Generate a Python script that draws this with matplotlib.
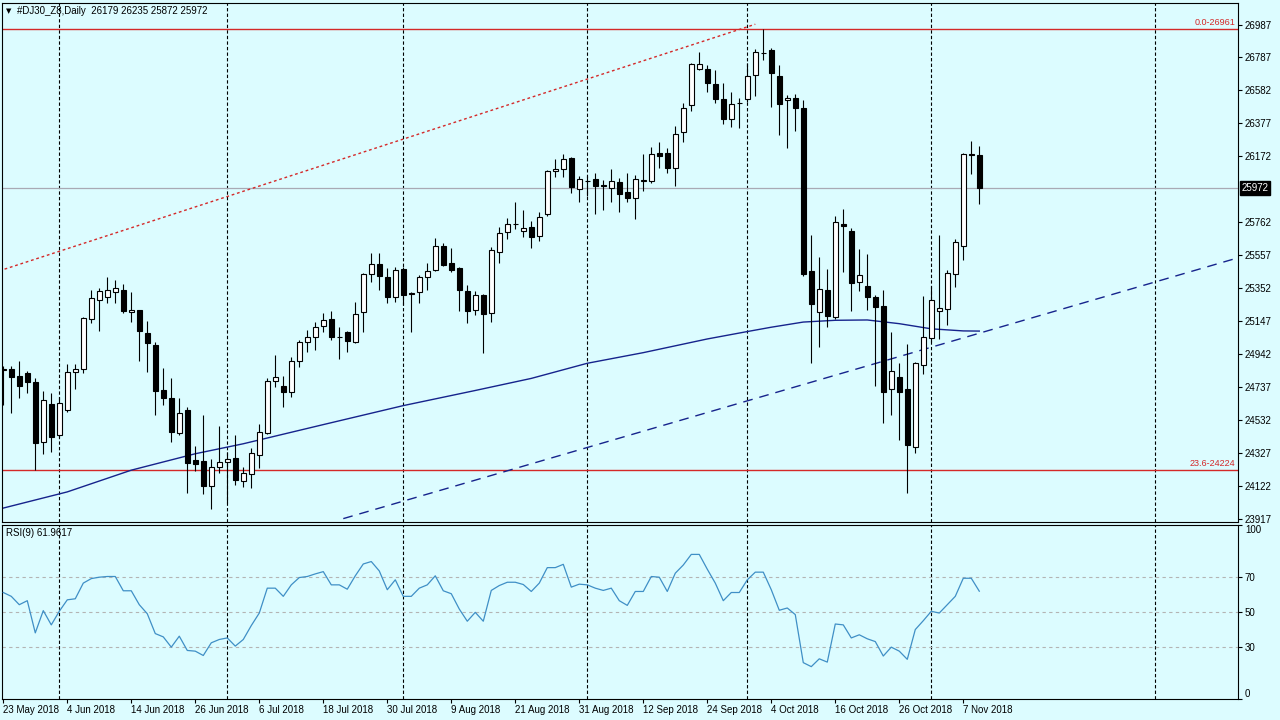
import matplotlib
matplotlib.use('Agg')
import matplotlib.pyplot as plt
import matplotlib.transforms as mtransforms
import numpy as np

# daily bars, 23 May 2018 .. 9 Nov 2018 (one per weekday)
opens = [24843, 24849, 24805, 24824, 24768, 24395, 24631, 24439, 24594, 24830,
         24849, 25159, 25278, 25296, 25327, 25340, 25203, 25215, 25073, 24998,
         24718, 24669, 24451, 24594, 24284, 24277, 24122, 24240, 24271, 24296,
         24153, 24197, 24315, 24451, 24774, 24743, 24706, 24899, 25017, 25048,
         25116, 25159, 25048, 25079, 25017, 25203, 25439, 25501, 25420, 25296,
         25470, 25321, 25327, 25420, 25464, 25613, 25507, 25476, 25333, 25215,
         25309, 25197, 25576, 25700, 25750, 25706, 25731, 25675, 25812, 26079,
         26091, 26160, 25967, 26017, 26029, 25992, 25973, 26011, 25948, 25911,
         26017, 26017, 26191, 26191, 26098, 26321, 26489, 26713, 26713, 26619,
         26526, 26402, 26501, 26526, 26675, 26812, 26831, 26669, 26520, 26532,
         26470, 25458, 25203, 25340, 25172, 25750, 25706, 25389, 25364, 25296,
         25240, 24725, 24799, 24725, 24364, 24874, 25041, 25209, 25222, 25439,
         25613, 26184, 26179]
highs = [24867, 24867, 24899, 24836, 24793, 24712, 24700, 24675, 24880, 24880,
         25172, 25340, 25352, 25420, 25402, 25377, 25327, 25218, 25147, 25017,
         24855, 24793, 24669, 24613, 24371, 24563, 24290, 24495, 24333, 24439,
         24240, 24358, 24507, 24793, 24936, 24805, 24923, 25029, 25091, 25141,
         25197, 25209, 25110, 25085, 25265, 25445, 25569, 25569, 25476, 25483,
         25483, 25327, 25433, 25507, 25663, 25632, 25601, 25483, 25371, 25333,
         25315, 25607, 25731, 25787, 25886, 25837, 25768, 25824, 26085, 26153,
         26184, 26166, 26048, 26048, 26066, 26023, 26091, 26035, 26066, 26054,
         26184, 26228, 26259, 26222, 26358, 26501, 26750, 26818, 26737, 26706,
         26626, 26570, 26532, 26750, 26837, 26961, 26840, 26737, 26551, 26557,
         26520, 25681, 25545, 25470, 25799, 25843, 25725, 25594, 25563, 25309,
         25340, 25079, 24886, 25004, 24892, 25302, 25364, 25681, 25464, 25656,
         26191, 26265, 26235]
lows = [24625, 24575, 24669, 24700, 24221, 24321, 24333, 24426, 24582, 24725,
        24824, 25135, 25085, 25259, 25259, 25197, 25141, 24899, 24830, 24563,
        24625, 24395, 24439, 24079, 24215, 24072, 23979, 24203, 24016, 24128,
        24116, 24110, 24234, 24445, 24737, 24613, 24675, 24861, 24954, 24967,
        25079, 25029, 24911, 24954, 25010, 25079, 25389, 25340, 25259, 25265,
        25246, 25079, 25259, 25340, 25458, 25489, 25451, 25209, 25135, 25184,
        24948, 25141, 25507, 25656, 25719, 25669, 25601, 25644, 25799, 26042,
        26042, 25942, 25886, 25924, 25812, 25837, 25886, 25824, 25886, 25781,
        25955, 26004, 26098, 26066, 25986, 26259, 26452, 26706, 26570, 26501,
        26371, 26352, 26346, 26507, 26545, 26768, 26476, 26302, 26222, 26327,
        25427, 24886, 24986, 25110, 25159, 25451, 25209, 25333, 25215, 24743,
        24513, 24563, 24408, 24079, 24327, 24818, 25017, 25035, 25122, 25358,
        25526, 26060, 25872]
closes = [24849, 24799, 24743, 24768, 24389, 24656, 24426, 24638, 24830, 24849,
          25166, 25290, 25333, 25340, 25352, 25209, 25215, 25085, 25010, 24712,
          24669, 24458, 24575, 24265, 24259, 24122, 24240, 24271, 24290, 24159,
          24203, 24327, 24458, 24774, 24799, 24706, 24899, 25017, 25048, 25110,
          25153, 25048, 25046, 25023, 25190, 25439, 25501, 25427, 25296, 25464,
          25309, 25315, 25420, 25458, 25613, 25495, 25464, 25340, 25209, 25309,
          25190, 25588, 25694, 25750, 25752, 25725, 25669, 25793, 26079, 26091,
          26153, 25979, 26029, 26017, 25986, 25986, 26017, 25936, 25911, 26029,
          26023, 26184, 26172, 26098, 26309, 26470, 26744, 26744, 26626, 26526,
          26402, 26495, 26503, 26669, 26818, 26814, 26688, 26495, 26532, 26470,
          25439, 25253, 25346, 25178, 25762, 25737, 25383, 25433, 25296, 25234,
          24706, 24836, 24706, 24377, 24886, 25048, 25278, 25228, 25445, 25638,
          26184, 26180, 25972]

rsi = [61.2, 59.0, 54.2, 56.5, 38.0, 50.8, 42.6, 50.4, 57.0, 57.6,
       66.6, 69.2, 70.0, 70.4, 70.4, 62.2, 62.2, 54.2, 49.0, 37.6,
       35.7, 29.8, 36.1, 27.9, 27.5, 25.0, 32.3, 34.2, 35.1, 30.4,
       34.2, 42.2, 49.4, 63.7, 63.7, 59.0, 65.6, 69.8, 70.4, 71.9,
       73.2, 65.6, 65.6, 63.1, 70.8, 77.6, 79.0, 73.6, 62.8, 68.5,
       59.0, 59.0, 63.7, 65.6, 70.8, 62.2, 60.5, 51.7, 44.7, 49.8,
       44.7, 62.4, 65.2, 67.1, 67.1, 65.8, 61.8, 66.6, 75.5, 75.5,
       77.4, 64.3, 66.0, 65.6, 63.7, 62.4, 63.7, 56.5, 53.8, 61.8,
       61.8, 70.4, 70.0, 61.8, 72.3, 77.0, 83.1, 83.1, 74.6, 66.6,
       56.5, 61.2, 61.2, 68.5, 72.9, 72.9, 62.8, 51.0, 52.3, 48.5,
       20.9, 18.6, 23.1, 21.2, 43.1, 42.6, 35.1, 36.9, 34.6, 33.0,
       24.7, 29.8, 27.5, 22.8, 39.9, 45.0, 50.4, 49.4, 54.2, 59.0,
       69.4, 69.4, 61.9617]

# moving average, sampled along the blue line
ma_bars = [-0.2, 8, 16, 24, 30, 40, 50, 59, 66, 73, 80, 88, 93, 96, 100,
           104, 108, 112, 116, 120, 122]
ma_vals = [23982, 24085, 24220, 24322, 24384, 24503, 24621, 24715, 24790, 24884,
           24950, 25035, 25081, 25108, 25140, 25151, 25153, 25130, 25098, 25085, 25084]

date_labels = ['23 May 2018', '4 Jun 2018', '14 Jun 2018', '26 Jun 2018', '6 Jul 2018',
               '18 Jul 2018', '30 Jul 2018', '9 Aug 2018', '21 Aug 2018', '31 Aug 2018',
               '12 Sep 2018', '24 Sep 2018', '4 Oct 2018', '16 Oct 2018', '26 Oct 2018',
               '7 Nov 2018']
price_ticks = [23917, 24122, 24327, 24532, 24737, 24942, 25147, 25352, 25557,
               25762, 26172, 26377, 26582, 26787, 26987]
rsi_ticks = [0, 30, 50, 70, 100]
rsi_levels = [30, 50, 70]
fib_levels = [26961, 24224]
fib_names = ['0.0-26961', '23.6-24224']
grid_bars = [7, 28, 50, 73, 93, 116, 144]
channel_bars = [-0.5, 94]
channel_vals = [25458, 26990]
trend_bars = [42.5, 154.4]
trend_vals = [23919, 25540]

bg = '#dcfcff'
plt.rcParams['font.family'] = ['Liberation Sans', 'DejaVu Sans']

fig = plt.figure(figsize=(12.8, 7.2), dpi=100, facecolor=bg)
ax = fig.add_axes([2/1280, 198/720, 1236/1280, 519/720], facecolor=bg)
ax2 = fig.add_axes([2/1280, 21/720, 1236/1280, 174/720], facecolor=bg)

o = np.array(opens, float)
h = np.array(highs, float)
l = np.array(lows, float)
c = np.array(closes, float)
x = np.arange(len(o))
xmin = -0.16
xmax = xmin + 1236/8

#price panel
for b in grid_bars:
    ax.axvline(b, color='black', lw=0.8, ls=(0, (3, 2)), zorder=1)
for lev, name in zip(fib_levels, fib_names):
    ax.axhline(lev, color='#d42828', lw=1, zorder=2)
    ax.text(xmax - 0.3, lev + 10, name, color='#d42828', fontsize=6.5, ha='right', va='bottom')
ax.axhline(c[-1], color='#a9a9b4', lw=0.9, zorder=1)

ax.plot(ma_bars, ma_vals, color='#16238c', lw=1, zorder=2)
ax.plot(trend_bars, trend_vals, color='#16238c', lw=1, ls=(0, (7, 5)), zorder=2)
ax.plot(channel_bars, channel_vals, color='#d42828', lw=1, ls=(0, (2, 2)), zorder=2)

ax.vlines(x, l, h, color='black', lw=0.8, zorder=3)
up = c >= o
bot = np.minimum(o, c)
hgt = np.abs(c - o)
ax.bar(x[up], hgt[up], bottom=bot[up], width=0.6, facecolor='white', edgecolor='black', lw=0.8, zorder=4)
ax.bar(x[~up], hgt[~up], bottom=bot[~up], width=0.6, facecolor='black', edgecolor='black', lw=0.8, zorder=4)

ax.set_xlim(xmin, xmax)
ax.set_ylim(23898, 27122)
ax.set_xticks([])
ax.yaxis.tick_right()
ax.set_yticks(price_ticks)
ax.set_yticklabels([str(t) for t in price_ticks])
ax.tick_params(axis='y', length=3, width=0.8, pad=2, labelsize=7)

tr = mtransforms.blended_transform_factory(ax.transAxes, ax.transData)
ax.text(1.003, c[-1], '%d' % c[-1], transform=tr, color='white', fontsize=7, va='center', ha='left',
        bbox=dict(facecolor='black', edgecolor='black', pad=1.2))

fig.text(6/1280, 1 - 11/720, '\u25bc', fontsize=5, va='center', ha='left', family=['DejaVu Sans'])
fig.text(17/1280, 1 - 11/720, '#DJ30_Z8,Daily  %d %d %d %d' % (o[-1], h[-1], l[-1], c[-1]),
         fontsize=7, va='center', ha='left')

#rsi panel
for b in grid_bars:
    ax2.axvline(b, color='black', lw=0.8, ls=(0, (3, 2)), zorder=1)
for lev in rsi_levels:
    ax2.axhline(lev, color='#b4b4b4', lw=0.8, ls=(0, (3, 3)), zorder=1)
ax2.plot(x, rsi, color='#3f8fc6', lw=0.9, zorder=3)
ax2.text(0.003, 0.955, 'RSI(9) %.4f' % rsi[-1], transform=ax2.transAxes, fontsize=7, va='center', ha='left')

ax2.set_xlim(xmin, xmax)
ax2.set_ylim(0, 100)
ax2.yaxis.tick_right()
ax2.set_yticks(rsi_ticks)
ax2.set_yticklabels([str(t) for t in rsi_ticks])
ax2.tick_params(axis='y', length=3, width=0.8, pad=2, labelsize=7)
ylabels = ax2.get_yticklabels()
ylabels[0].set_va('bottom')
ylabels[-1].set_va('top')
ax2.set_xticks(x[::8])
ax2.set_xticklabels(date_labels, ha='left')
ax2.tick_params(axis='x', length=3, width=0.8, pad=1.5, labelsize=7)

for a in (ax, ax2):
    for s in a.spines.values():
        s.set_color('black')
        s.set_linewidth(0.8)

fig.savefig('out.png', dpi=100, facecolor=bg)
